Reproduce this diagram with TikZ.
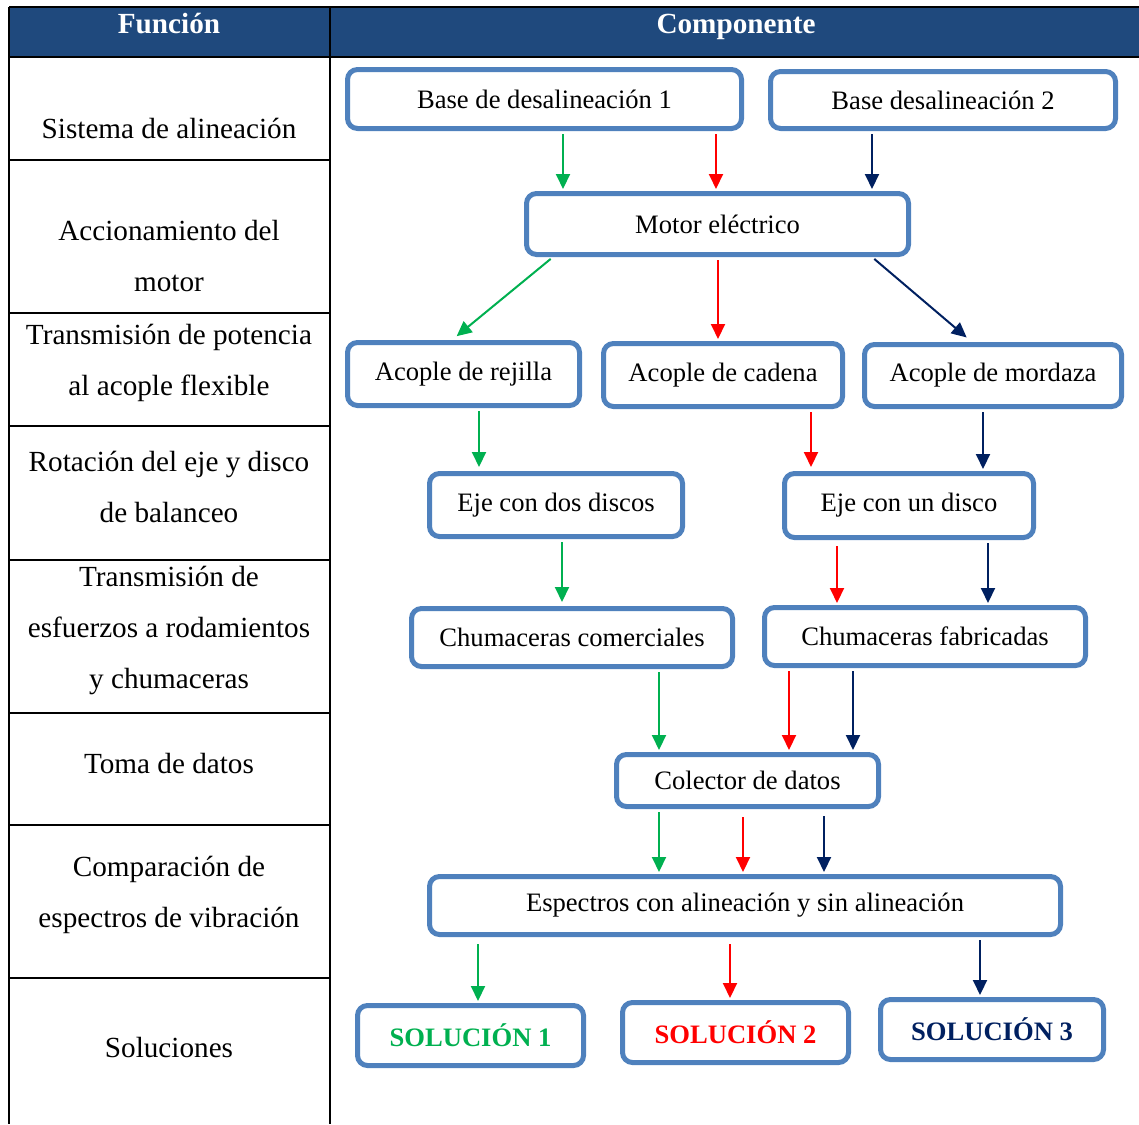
\documentclass[tikz,border=0pt]{standalone}
\usepackage{fontspec}
\setmainfont{Liberation Serif}
\usetikzlibrary{arrows.meta}
\definecolor{hdr}{HTML}{1F497D}
\definecolor{bxblue}{HTML}{4F81BD}
\definecolor{cgreen}{HTML}{00B050}
\definecolor{cred}{HTML}{FF0000}
\definecolor{cnavy}{HTML}{002060}
\tikzset{
  bx/.style={draw=bxblue, line width=5pt, rounded corners=10pt, fill=white, inner sep=0pt,
    font=\fontsize{26.6}{32}\selectfont},
  cell/.style={align=center, inner sep=0pt, font=\fontsize{29.2}{51}\selectfont},
  hd/.style={text=white, inner sep=0pt, anchor=base, font=\fontsize{29.2}{34}\selectfont\bfseries},
  rule/.style={line width=2pt, black},
  ar/.style={line width=2pt, -{Triangle[length=15pt,width=14pt]}, shorten <=3pt, shorten >=2pt},
  sol/.style={bx, font=\fontsize{26.6}{32}\selectfont\bfseries}
}
\begin{document}
\begin{tikzpicture}[x=1pt,y=-1pt]
\useasboundingbox (0,0) rectangle (1139,1124);
% header
\fill[hdr] (9,7) rectangle (1139,57);
\node[hd] (h1) at (169,34) {Función};
\node[hd] (h2) at (736,34) {Componente};
% table rules
\draw[rule] (9,7) -- (1139,7);
\draw[rule] (9,57) -- (1139,57);
\draw[rule] (9,7) -- (9,1124);
\draw[rule] (330,7) -- (330,1124);
\foreach \yy in {160,313,426,560,713,825,978} \draw[rule] (9,\yy) -- (330,\yy);
% left column
\node[cell] (f1) at (169,128) {Sistema de alineación};
\node[cell] (f2) at (169,256) {Accionamiento del\\motor};
\node[cell] (f3) at (169,363) {Transmisión de potencia\\al acople flexible};
\node[cell] (f4) at (169,487) {Rotación del eje y disco\\de balanceo};
\node[cell] (f5) at (169,630) {Transmisión de\\esfuerzos a rodamientos\\y chumaceras};
\node[cell] (f6) at (169,763) {Toma de datos};
\node[cell] (f7) at (169,895) {Comparación de\\espectros de vibración};
\node[cell] (f8) at (169,1047) {Soluciones};
% boxes
\node[bx, minimum width=394pt, minimum height=59pt] (b1) at (544.5,99) {Base de desalineación 1};
\node[bx, minimum width=345pt, minimum height=57pt] (b2) at (943,100) {Base desalineación 2};
\node[bx, minimum width=382pt, minimum height=61pt] (mot) at (717.5,224) {Motor eléctrico};
\node[bx, minimum width=232pt, minimum height=63pt] (rej) at (463.5,374) {Acople de rejilla};
\node[bx, minimum width=239pt, minimum height=63pt] (cad) at (723,375) {Acople de cadena};
\node[bx, minimum width=257pt, minimum height=62pt] (mor) at (993,375.5) {Acople de mordaza};
\node[bx, minimum width=253pt, minimum height=63pt] (ed) at (556,505) {Eje con dos discos};
\node[bx, minimum width=249pt, minimum height=64pt] (eu) at (909,505.5) {Eje con un disco};
\node[bx, minimum width=321pt, minimum height=58pt] (cc) at (572,637.5) {Chumaceras comerciales};
\node[bx, minimum width=321pt, minimum height=58pt] (cf) at (925,636.5) {Chumaceras fabricadas};
\node[bx, minimum width=262pt, minimum height=52pt] (col) at (747.5,780.5) {Colector de datos};
\node[bx, minimum width=631pt, minimum height=58pt] (esp) at (745,905.5) {Espectros con alineación y sin alineación};
\node[sol, text=cgreen, minimum width=226pt, minimum height=60pt] (s1) at (470.5,1035.5) {SOLUCIÓN 1};
\node[sol, text=cred, minimum width=226pt, minimum height=60pt] (s2) at (735.5,1032.5) {SOLUCIÓN 2};
\node[sol, text=cnavy, minimum width=223pt, minimum height=60pt] (s3) at (992,1029.5) {SOLUCIÓN 3};
% arrows
\draw[ar, cgreen] (563,0 |- b1.south) -- (563,0 |- mot.north);
\draw[ar, cred] (716,0 |- b1.south) -- (716,0 |- mot.north);
\draw[ar, cnavy] (872,0 |- b2.south) -- (872,0 |- mot.north);
\draw[ar, cgreen, shorten >=6pt] (553,0 |- mot.south) -- (452,0 |- rej.north);
\draw[ar, cred] (718,0 |- mot.south) -- (718,0 |- cad.north);
\draw[ar, cnavy, shorten >=7pt] (872,0 |- mot.south) -- (972,0 |- mor.north);
\draw[ar, cgreen, shorten >=4pt] (479,0 |- rej.south) -- (479,0 |- ed.north);
\draw[ar, cred, shorten >=4pt] (811,0 |- cad.south) -- (811,0 |- eu.north);
\draw[ar, cnavy] (983,0 |- mor.south) -- (983,0 |- eu.north);
\draw[ar, cgreen, shorten >=4pt] (562,0 |- ed.south) -- (562,0 |- cc.north);
\draw[ar, cred, shorten <=6pt] (837,0 |- eu.south) -- (837,0 |- cf.north);
\draw[ar, cnavy] (988,0 |- eu.south) -- (988,0 |- cf.north);
\draw[ar, cgreen] (659,0 |- cc.south) -- (659,0 |- col.north);
\draw[ar, cred] (789,0 |- cf.south) -- (789,0 |- col.north);
\draw[ar, cnavy] (853,0 |- cf.south) -- (853,0 |- col.north);
\draw[ar, cgreen] (659,0 |- col.south) -- (659,0 |- esp.north);
\draw[ar, cred, shorten <=8pt] (743,0 |- col.south) -- (743,0 |- esp.north);
\draw[ar, cnavy, shorten <=7pt] (824,0 |- col.south) -- (824,0 |- esp.north);
\draw[ar, cgreen, shorten <=7pt] (478,0 |- esp.south) -- (478,0 |- s1.north);
\draw[ar, cred, shorten <=7pt] (730,0 |- esp.south) -- (730,0 |- s2.north);
\draw[ar, cnavy] (980,0 |- esp.south) -- (980,0 |- s3.north);
\end{tikzpicture}
\end{document}
